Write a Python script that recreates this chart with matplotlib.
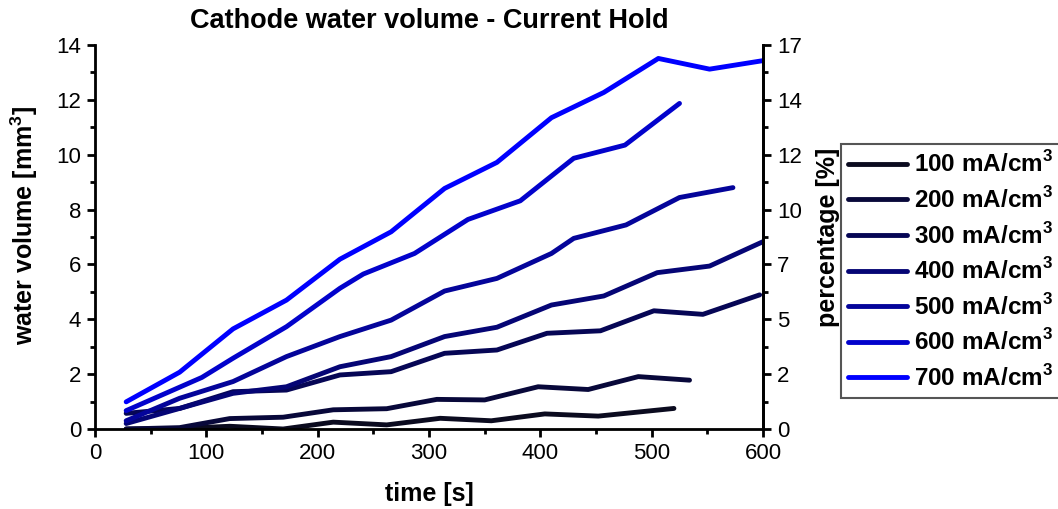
import matplotlib
matplotlib.use("Agg")
import matplotlib.pyplot as plt
from matplotlib.ticker import MultipleLocator, FixedLocator, FixedFormatter

plt.rcParams['font.family'] = ['Liberation Sans', 'DejaVu Sans']
plt.rcParams['mathtext.fontset'] = 'custom'
plt.rcParams['mathtext.rm'] = 'Liberation Sans'
plt.rcParams['mathtext.bf'] = 'Liberation Sans:bold'

# current densities (mA/cm^3)
labels = ["100", "200", "300", "400", "500", "600", "700"]

# time [s] and water volume [mm^3] for each current hold
t_100 = [28, 76, 121, 169, 214, 262, 310, 356, 404, 452, 520]
v_100 = [0.00, 0.02, 0.10, 0.00, 0.25, 0.15, 0.39, 0.30, 0.55, 0.47, 0.75]

t_200 = [28, 76, 121, 169, 214, 262, 307, 350, 398, 443, 488, 534]
v_200 = [0.00, 0.05, 0.38, 0.43, 0.70, 0.74, 1.08, 1.06, 1.54, 1.44, 1.91, 1.78]

t_300 = [28, 76, 124, 172, 220, 266, 314, 361, 406, 454, 502, 546, 597]
v_300 = [0.57, 0.75, 1.36, 1.42, 1.97, 2.09, 2.76, 2.88, 3.49, 3.58, 4.31, 4.18, 4.89]

t_400 = [28, 76, 124, 172, 220, 266, 314, 361, 410, 457, 505, 552, 600]
v_400 = [0.20, 0.75, 1.30, 1.54, 2.27, 2.64, 3.37, 3.71, 4.52, 4.85, 5.70, 5.94, 6.83]

t_500 = [28, 76, 124, 172, 220, 266, 314, 361, 410, 430, 477, 525, 573]
v_500 = [0.30, 1.12, 1.73, 2.64, 3.37, 3.97, 5.03, 5.49, 6.40, 6.95, 7.44, 8.44, 8.80]

t_600 = [28, 96, 124, 172, 220, 241, 287, 335, 382, 430, 476, 525]
v_600 = [0.67, 1.88, 2.58, 3.73, 5.13, 5.65, 6.40, 7.64, 8.32, 9.87, 10.35, 11.87]

t_700 = [28, 76, 124, 172, 220, 266, 314, 361, 410, 457, 506, 552, 600]
v_700 = [0.99, 2.07, 3.65, 4.70, 6.19, 7.19, 8.77, 9.72, 11.35, 12.27, 13.51, 13.12, 13.43]

times = [t_100, t_200, t_300, t_400, t_500, t_600, t_700]
volumes = [v_100, v_200, v_300, v_400, v_500, v_600, v_700]

colors = ["#0b0b1f", "#08083a", "#060655", "#050575", "#04049a", "#0202cc", "#0000ff"]

# right-hand percentage axis labels, one at each 2 mm^3 step
pct_labels = ["0", "2", "5", "7", "10", "12", "14", "17"]

fig = plt.figure(figsize=(10.58, 5.09), dpi=100)
ax = fig.add_axes([95 / 1058, 1 - 429 / 509, (763 - 95) / 1058, (429 - 45) / 509])

handles = []
for lab, t, v, c in zip(labels, times, volumes, colors):
    h, = ax.plot(t, v, color=c, lw=3.5, solid_capstyle='round', solid_joinstyle='round',
                 label=lab + r" mA/cm$^{\mathbf{3}}$")
    handles.append(h)

ax.set_xlim(0, 600)
ax.set_ylim(0, 14)
ax.xaxis.set_major_locator(MultipleLocator(100))
ax.xaxis.set_minor_locator(MultipleLocator(50))
ax.yaxis.set_major_locator(MultipleLocator(2))
ax.yaxis.set_minor_locator(MultipleLocator(1))

for side in ['left', 'bottom', 'right']:
    ax.spines[side].set_linewidth(2.0)
ax.spines['top'].set_visible(False)
ax.tick_params(which='major', direction='out', length=6, width=2.0, labelsize=16, pad=4)
ax.tick_params(which='minor', direction='out', length=3.5, width=2.0)

ax.set_xlabel("time [s]", fontsize=18, fontweight='bold', labelpad=13)
ax.set_ylabel(r"water volume [mm$^{\mathbf{3}}$]", fontsize=18, fontweight='bold')
ax.yaxis.set_label_coords(-0.082, 0.53)
ax.set_title("Cathode water volume - Current Hold", fontsize=19.5, fontweight='bold', pad=12)

ax2 = ax.twinx()
ax2.set_ylim(0, 17)
ax2.spines['top'].set_visible(False)
ax2.spines['right'].set_linewidth(2.0)
major_pos = [17 / 7 * k for k in range(8)]
minor_pos = [17 / 7 * (k + 0.5) for k in range(7)]
ax2.yaxis.set_major_locator(FixedLocator(major_pos))
ax2.yaxis.set_major_formatter(FixedFormatter(pct_labels))
ax2.yaxis.set_minor_locator(FixedLocator(minor_pos))
ax2.tick_params(which='major', direction='out', length=6, width=2.0, labelsize=16, pad=4)
ax2.tick_params(which='minor', direction='out', length=3.5, width=2.0)
ax2.set_ylabel("percentage [%]", fontsize=18, fontweight='bold', labelpad=10)

leg = fig.legend(handles=handles, loc='upper left', bbox_to_anchor=(841 / 1058, 1 - 144 / 509),
                 frameon=True, fancybox=False, edgecolor='#555555', framealpha=1,
                 prop={'weight': 'bold', 'size': 17.5}, handlelength=2.4, handletextpad=0.3,
                 borderpad=0.3, labelspacing=0.4, borderaxespad=0)
leg.get_frame().set_linewidth(1.5)

fig.savefig("out.png", dpi=100)
